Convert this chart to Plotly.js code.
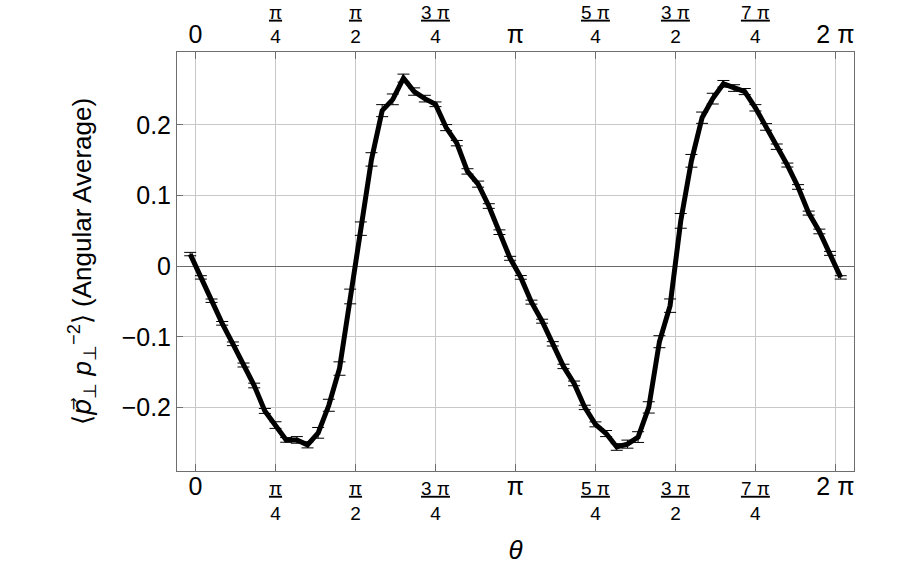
<!DOCTYPE html>
<html>
<head>
<meta charset="utf-8">
<script src="https://cdn.plot.ly/plotly-3.0.1.min.js"></script>
<style>html,body{margin:0;padding:0;background:#fff;}#chart{width:918px;height:567px;}</style>
</head>
<body>
<div id="chart"></div>
<script>
// theta values (radians)
const theta = [
 -0.0524, 0.0524, 0.1571, 0.2618, 0.3665, 0.4712, 0.5760, 0.6807, 0.7854, 0.8901,
  0.9948, 1.0996, 1.2043, 1.3090, 1.4137, 1.5184, 1.6232, 1.7279, 1.8326, 1.9373,
  2.0420, 2.1468, 2.2515, 2.3562, 2.4609, 2.5656, 2.6704, 2.7751, 2.8798, 2.9845,
  3.0892, 3.1940, 3.2987, 3.4034, 3.5081, 3.6128, 3.7176, 3.8223, 3.9270, 4.0317,
  4.1364, 4.2412, 4.3459, 4.4506, 4.5553, 4.6600, 4.7648, 4.8695, 4.9742, 5.0789,
  5.1836, 5.2883, 5.3931, 5.4978, 5.6025, 5.7072, 5.8119, 5.9167, 6.0214, 6.1261,
  6.2308, 6.3355
];
// angular average values
const avgValue = [
  0.017, -0.016, -0.049, -0.081, -0.110, -0.140, -0.169, -0.205, -0.225, -0.246,
 -0.246, -0.253, -0.236, -0.197, -0.145, -0.043, 0.053, 0.151, 0.220, 0.236,
  0.266, 0.247, 0.237, 0.229, 0.196, 0.174, 0.134, 0.116, 0.085, 0.048,
  0.011, -0.016, -0.051, -0.078, -0.110, -0.142, -0.166, -0.200, -0.224, -0.237,
 -0.256, -0.252, -0.242, -0.200, -0.107, -0.056, 0.064, 0.149, 0.210, 0.237,
  0.258, 0.252, 0.247, 0.224, 0.197, 0.169, 0.143, 0.112, 0.075, 0.049,
  0.018, -0.016
];
// error bar half-sizes
const avgError = [
  0.0024, 0.0024, 0.0024, 0.0026, 0.0026, 0.0028, 0.0033, 0.0035, 0.0047, 0.0033,
  0.0047, 0.0043, 0.0076, 0.0085, 0.0095, 0.0104, 0.0095, 0.0095, 0.0085, 0.0076,
  0.0057, 0.0052, 0.0047, 0.0033, 0.0043, 0.0038, 0.0038, 0.0043, 0.0033, 0.0033,
  0.0028, 0.0026, 0.0028, 0.0028, 0.0031, 0.0031, 0.0033, 0.0031, 0.0035, 0.0043,
  0.0047, 0.0057, 0.0076, 0.0080, 0.0085, 0.0095, 0.0104, 0.0090, 0.0080, 0.0076,
  0.0047, 0.0047, 0.0043, 0.0045, 0.0047, 0.0038, 0.0028, 0.0033, 0.0028, 0.0033,
  0.0028, 0.0024
];
// x tick positions (multiples of pi/4) and labels
const xTickVals = [0, Math.PI/4, Math.PI/2, 3*Math.PI/4, Math.PI, 5*Math.PI/4, 3*Math.PI/2, 7*Math.PI/4, 2*Math.PI];
const bigStyle = 'font-size:25px';
const uStyle = 'text-decoration:underline';
const xTickText = [
  '<span style="'+bigStyle+'">0</span>',
  '<span style="'+uStyle+'">π</span><br>4',
  '<span style="'+uStyle+'">π</span><br>2',
  '<span style="'+uStyle+'">3 π</span><br>4',
  '<span style="'+bigStyle+'">π</span>',
  '<span style="'+uStyle+'">5 π</span><br>4',
  '<span style="'+uStyle+'">3 π</span><br>2',
  '<span style="'+uStyle+'">7 π</span><br>4',
  '<span style="'+bigStyle+'">2 π</span>'
];
const yTickVals = [-0.2, -0.1, 0, 0.1, 0.2];
const yTickText = ['\u22120.2', '\u22120.1', '0', '0.1', '0.2'];

const FONT = 'Liberation Sans, Arial, sans-serif';
const frameColor = '#6e6e6e';
const gridColor = '#c8c8c8';

const traces = [
  {
    x: theta, y: avgValue, type: 'scatter', mode: 'lines',
    line: {color: '#000', width: 5},
    error_y: {type: 'data', array: avgError, visible: true, color: '#000', thickness: 1, width: 6},
    hoverinfo: 'x+y', showlegend: false
  },
  {
    x: theta, y: avgValue, type: 'scatter', mode: 'lines', xaxis: 'x2',
    line: {color: 'rgba(0,0,0,0)', width: 0}, hoverinfo: 'skip', showlegend: false
  }
];

const xRange = [-0.182, 6.466];
const layout = {
  width: 918, height: 567,
  margin: {l: 177, r: 64, t: 52, b: 96},
  paper_bgcolor: '#fff', plot_bgcolor: '#fff',
  font: {family: FONT, color: '#000', size: 19},
  showlegend: false,
  xaxis: {
    range: xRange, tickmode: 'array', tickvals: xTickVals, ticktext: xTickText,
    ticks: 'inside', ticklen: 7, tickcolor: frameColor, tickwidth: 1,
    showline: true, linecolor: frameColor, linewidth: 1, mirror: false,
    showgrid: true, gridcolor: gridColor, gridwidth: 1, zeroline: false,
    tickfont: {size: 19, family: FONT, color: '#000'},
    title: {text: '<i>θ</i>', font: {size: 26, family: FONT, color: '#000'}, standoff: 18}
  },
  xaxis2: {
    range: xRange, overlaying: 'x', side: 'top', anchor: 'y',
    tickmode: 'array', tickvals: xTickVals, ticktext: xTickText,
    ticks: 'inside', ticklen: 7, tickcolor: frameColor, tickwidth: 1,
    showline: true, linecolor: frameColor, linewidth: 1,
    showgrid: false, zeroline: false,
    tickfont: {size: 19, family: FONT, color: '#000'}
  },
  yaxis: {
    range: [-0.29, 0.303], tickmode: 'array', tickvals: yTickVals, ticktext: yTickText,
    ticks: 'inside', ticklen: 6, tickcolor: frameColor, tickwidth: 1,
    showline: true, linecolor: frameColor, linewidth: 1, mirror: true,
    showgrid: true, gridcolor: gridColor, gridwidth: 1,
    zeroline: true, zerolinecolor: '#6a6a6a', zerolinewidth: 1,
    tickfont: {size: 25, family: FONT, color: '#000'},
    title: {
      text: '\u27E8<span style="font-family:DejaVu Sans"><i>p\u20D7</i></span><sub>\u22A5</sub> <i>p</i><sub>\u22A5</sub><sup>\u22122</sup>\u27E9 (Angular Average)',
      font: {size: 26, family: FONT, color: '#000'}, standoff: 22
    }
  }
};

Plotly.newPlot('chart', traces, layout, {displayModeBar: false, staticPlot: true});
</script>
</body>
</html>
